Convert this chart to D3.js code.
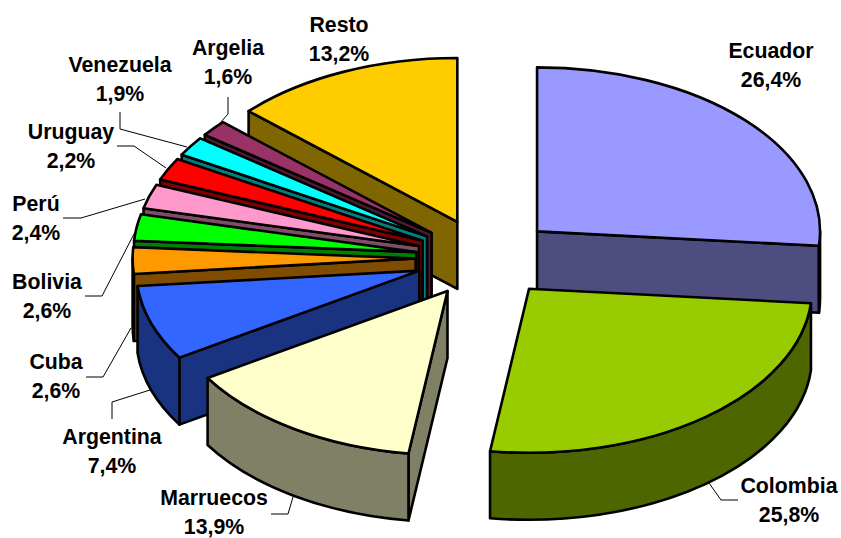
<!DOCTYPE html>
<html lang="es">

<head>
  <meta charset="utf-8">
  <title>Procedencia</title>
  <script src="https://d3js.org/d3.v7.min.js"></script>
  <style>
    html, body { margin: 0; padding: 0; background: #fff; }
    svg { display: block; }
    text {
      font: bold 21.3px "Liberation Sans", Arial, sans-serif;
      fill: #000;
      text-anchor: middle;
    }
    .leader { fill: none; stroke: #000; stroke-width: 1; }
    .face { stroke: #000; stroke-width: 2.6; stroke-linejoin: round; }
  </style>
</head>

<body>
  <svg width="841" height="538"></svg>

  <script>
    var paises = ["Ecuador", "Colombia", "Marruecos", "Argentina", "Cuba", "Bolivia", "Perú", "Uruguay", "Venezuela", "Argelia", "Resto"];
    var valores = [26.4, 25.8, 13.9, 7.4, 2.6, 2.6, 2.4, 2.2, 1.9, 1.6, 13.2];
    var colores = ["#9999ff", "#99cc00", "#ffffcc", "#3366ff", "#ff9900", "#00ff00", "#ff99cc", "#ff0000", "#00ffff", "#993366", "#ffcc00"];
    // orden de pintado: de atras hacia adelante
    var ordenPintado = ["Resto", "Argelia", "Venezuela", "Uruguay", "Perú", "Bolivia", "Cuba", "Argentina", "Marruecos", "Ecuador", "Colombia"];
    // etiquetas: centro x y lineas base
    var etiquetaX = [771, 789, 214, 112, 56, 47, 36, 71, 120, 228, 339];
    var etiquetaY = [58, 493, 505, 444, 369, 289, 211, 139, 72, 55, 32];
    var lineas = [
      null,
      [[709, 483], [721, 500], [738, 500]],
      [[271, 514], [288, 514], [293, 497]],
      [[112, 419], [112, 402], [150, 390]],
      [[86, 377], [103, 377], [131, 328]],
      [[85, 296], [102, 296], [134, 234]],
      [[63, 218], [81, 218], [145, 199]],
      [[117, 146], [134, 146], [166, 168]],
      [[120, 112], [120, 129], [187, 147]],
      [[228, 97], [228, 114], [220, 123]],
      null
    ];

    var cx = 485.5, cy = 258, rx = 283, ry = 164, prof = 67, explosionX = 0.247, explosionY = 0.24;
    var svg = d3.select("svg");
    var pie = d3.pie().sort(null).value(function (d) { return d.valor; });
    var datos = paises.map(function (p, i) {
      return { pais: p, valor: valores[i], color: colores[i], x: etiquetaX[i], y: etiquetaY[i], linea: lineas[i] };
    });
    var arcos = pie(datos);

    function punto(c, a, dy) {
      return [c[0] + rx * Math.sin(a), c[1] - ry * Math.cos(a) + (dy || 0)];
    }
    function arco(c, a0, a1, dy) {
      var p = punto(c, a1, dy);
      var sweep = a1 > a0 ? 1 : 0;
      return "A" + rx + "," + ry + " 0 0 " + sweep + " " + p[0] + "," + p[1];
    }
    function pared(c, a) {
      var p = punto(c, a);
      return "M" + c[0] + "," + c[1] + "L" + p[0] + "," + p[1] +
        "L" + p[0] + "," + (p[1] + prof) + "L" + c[0] + "," + (c[1] + prof) + "Z";
    }

    ordenPintado.forEach(function (nombre) {
      var s = arcos.find(function (d) { return d.data.pais === nombre; });
      var a0 = s.startAngle, a1 = s.endAngle, medio = (a0 + a1) / 2;
      var c = [cx + explosionX * rx * Math.sin(medio), cy - explosionY * ry * Math.cos(medio)];
      var oscuro = d3.rgb(s.data.color);
      oscuro = d3.rgb(oscuro.r / 2, oscuro.g / 2, oscuro.b / 2).formatHex();
      var g = svg.append("g");

      // paredes radiales visibles
      if (Math.sin(a0) < -1e-6) g.append("path").attr("class", "face").attr("fill", oscuro).attr("d", pared(c, a0));
      if (Math.sin(a1) > 1e-6) g.append("path").attr("class", "face").attr("fill", oscuro).attr("d", pared(c, a1));

      // pared exterior, solo la mitad de abajo
      var b0 = Math.max(a0, Math.PI / 2), b1 = Math.min(a1, 3 * Math.PI / 2);
      if (b1 > b0) {
        var p0 = punto(c, b0), p1 = punto(c, b1);
        g.append("path").attr("class", "face").attr("fill", oscuro)
          .attr("d", "M" + p0[0] + "," + p0[1] + arco(c, b0, b1) +
            "L" + p1[0] + "," + (p1[1] + prof) + arco(c, b1, b0, prof) + "Z");
      }

      // tapa
      var ini = punto(c, a0);
      g.append("path").attr("class", "face").attr("fill", s.data.color)
        .attr("d", "M" + c[0] + "," + c[1] + "L" + ini[0] + "," + ini[1] + arco(c, a0, a1) + "Z");
    });

    var linea = d3.line();
    svg.selectAll(".leader").data(datos.filter(function (d) { return d.linea; }))
      .enter().append("path")
      .attr("class", "leader")
      .attr("d", function (d) { return linea(d.linea); });

    var etiquetas = svg.selectAll(".etiqueta").data(datos).enter().append("g").attr("class", "etiqueta");
    etiquetas.append("text").attr("x", function (d) { return d.x; }).attr("y", function (d) { return d.y; })
      .text(function (d) { return d.pais; });
    etiquetas.append("text").attr("x", function (d) { return d.x; }).attr("y", function (d) { return d.y + 28.5; })
      .text(function (d) { return d.valor.toFixed(1).replace(".", ",") + "%"; });
  </script>
</body>

</html>
